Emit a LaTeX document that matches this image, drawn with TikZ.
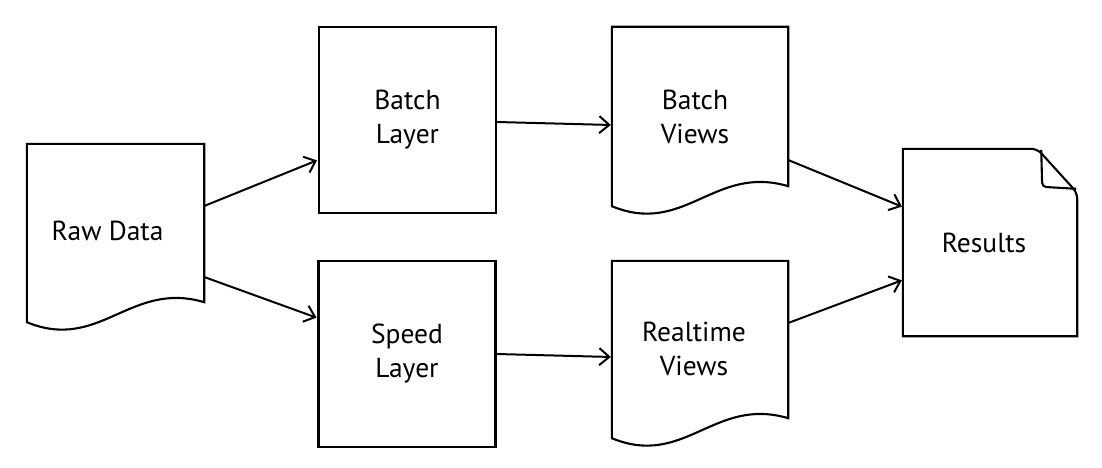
\documentclass[tikz,border=0pt]{standalone}
\usepackage{fontspec}
\setmainfont{PT Sans}
\usetikzlibrary{arrows.meta,calc}
\tikzset{
  box/.style={draw, line width=2.1pt, minimum width=177pt, minimum height=186pt, inner sep=0pt, align=center, font=\fontsize{27.5}{34}\selectfont},
  docarea/.style={inner sep=0pt, minimum width=176pt, minimum height=159pt},
  lbl/.style={align=center, inner sep=0pt, font=\fontsize{27.5}{34}\selectfont},
  shape line/.style={line width=2.1pt, line join=miter},
  flow/.style={line width=2pt, -{Straight Barb[length=10pt,width=17pt]}, shorten >=1pt}
}
\newcommand{\docwave}[1]{%
  \draw[shape line] (#1.south east) -- (#1.north east) -- (#1.north west) -- ([yshift=-20pt]#1.south west)
    .. controls +(73,30) and +(-74,-22) .. (#1.south east) -- cycle;}
\begin{document}
\begin{tikzpicture}[x=1pt,y=-1pt]
\useasboundingbox (0,0) rectangle (1102,468);
% shapes
\node[docarea, minimum width=177pt, minimum height=158pt] (raw) at (115.5,223) {};
\docwave{raw}
\node[lbl] (rawtxt) at ([shift={(-8,8)}]raw.center) {Raw Data};

\node[box] (batch) at (407.5,120) {Batch\\Layer};
\node[box] (speed) at (407,354) {Speed\\Layer};

\node[docarea] (bviews) at (700,106.5) {};
\docwave{bviews}
\node[lbl] (bviewstxt) at ([shift={(-5,10)}]bviews.center) {Batch\\Views};

\node[docarea, minimum height=157pt] (rviews) at (700,339.5) {};
\docwave{rviews}
\node[lbl] (rviewstxt) at ([shift={(-6,9)}]rviews.center) {Realtime\\Views};

\node[inner sep=0pt, minimum width=174pt, minimum height=187pt] (res) at (990,242.5) {};
\draw[shape line] (res.south east) -- (res.south west) -- (res.north west)
   {[rounded corners=6pt] -- ([xshift=-40pt]res.north east)
   -- ([yshift=-44pt]res.north east) -- (res.south east)} -- cycle;
\draw[shape line, rounded corners=4pt] ([xshift=-36pt,yshift=-1pt]res.north east)
   -- ([xshift=-35pt,yshift=-38pt]res.north east) -- ([xshift=-1pt,yshift=-40pt]res.north east);
\node[lbl] (restxt) at ([shift={(-6,0)}]res.center) {Results};

% connectors
\draw[flow] ([yshift=17pt]raw.east) -- ([yshift=-40pt]batch.west);
\draw[flow] ([yshift=-54pt]raw.east) -- ([yshift=36pt]speed.west);
\draw[flow] ([yshift=-2pt]batch.east) -- ([yshift=-18.5pt]bviews.west);
\draw[flow] (speed.east) -- ([yshift=-17.5pt]rviews.west);
\draw[flow] ([yshift=-53.5pt]bviews.east) -- ([yshift=35.5pt]res.west);
\draw[flow] ([yshift=16.5pt]rviews.east) -- ([yshift=-37.5pt]res.west);
\end{tikzpicture}
\end{document}
